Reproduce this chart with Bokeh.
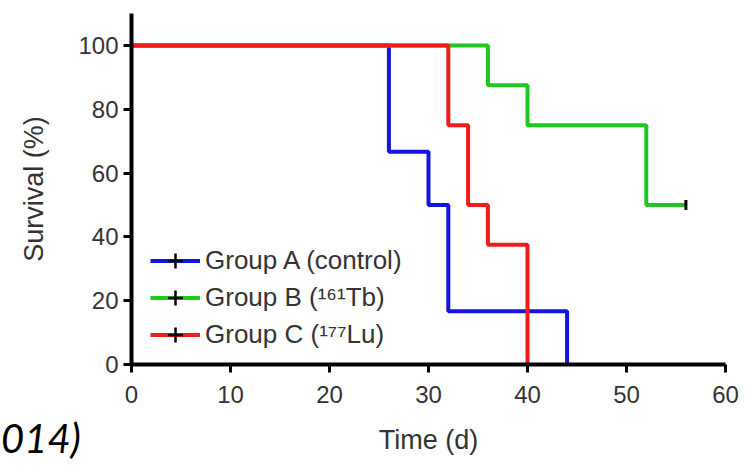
from bokeh.plotting import figure
from bokeh.models import Legend, LegendItem, FixedTicker, Range1d, Div
from bokeh.layouts import column
from bokeh.embed import file_html
from bokeh.resources import INLINE
import math

# Data (Kaplan-Meier survival, %)
time_a = [0, 26, 30, 32, 44]
surv_a = [100, 66.67, 50, 16.67, 0]
time_b = [0, 36, 40, 52, 56]
surv_b = [100, 87.5, 75, 50, 50]
time_c = [0, 32, 34, 36, 40]
surv_c = [100, 75, 50, 37.5, 0]
censor_b_time = [56]
censor_b_surv = [50]

names = ["Group A (control)", "Group B (\u00b9\u2076\u00b9Tb)", "Group C (\u00b9\u2077\u2077Lu)"]
colors = ["#1414e0", "#1ec81e", "#f01c1c"]
x_ticks = [0, 10, 20, 30, 40, 50, 60]
y_ticks = [0, 20, 40, 60, 80, 100]
caption = "014)"

FONT = "Liberation Sans"
TXT = "#333333"

p = figure(frame_width=594, frame_height=351, x_range=(0, 60), y_range=(0, 110),
           output_backend="svg", toolbar_location=None,
           min_border_left=131, min_border_right=15, min_border_top=13, min_border_bottom=95)
p.extra_x_ranges = {"legend_only": Range1d(1000, 1001)}
p.outline_line_color = None
p.grid.visible = False
p.background_fill_color = "white"

ra = p.step(time_a, surv_a, mode="after", line_color=colors[0], line_width=4)
rb = p.step(time_b, surv_b, mode="after", line_color=colors[1], line_width=4)
rc = p.step(time_c, surv_c, mode="after", line_color=colors[2], line_width=4)
# censored observation tick on the plot
p.scatter(censor_b_time, censor_b_surv, marker="dash", angle=math.pi / 2, size=10,
          line_color="black", line_width=3)
# censor symbol as shown in the legend (kept outside the visible range)
lg = p.scatter(censor_b_time, censor_b_surv, marker="cross", size=10, x_range_name="legend_only",
               line_color="black", line_width=2.5)

legend = Legend(items=[
    LegendItem(label=names[0], renderers=[ra, lg]),
    LegendItem(label=names[1], renderers=[rb, lg]),
    LegendItem(label=names[2], renderers=[rc, lg]),
], location=(19, 11))
legend.padding = 0
legend.margin = 0
legend.spacing = 0
legend.glyph_width = 50
legend.glyph_height = 37
legend.label_height = 37
legend.label_standoff = 5
legend.border_line_alpha = 0
legend.background_fill_alpha = 0
legend.label_text_font = FONT
legend.label_text_font_size = "26px"
legend.label_text_color = TXT
p.add_layout(legend, "center")

for ax in (p.xaxis[0], p.yaxis[0]):
    ax.axis_line_color = "black"
    ax.axis_line_width = 4
    ax.major_tick_line_color = "black"
    ax.major_tick_line_width = 3
    ax.major_tick_out = 8
    ax.major_tick_in = 0
    ax.minor_tick_line_color = None
    ax.major_label_text_font = FONT
    ax.major_label_text_font_size = "24px"
    ax.major_label_text_color = TXT
    ax.axis_label_text_font = FONT
    ax.axis_label_text_font_size = "27px"
    ax.axis_label_text_font_style = "normal"
    ax.axis_label_text_color = TXT

p.xaxis.ticker = FixedTicker(ticks=x_ticks)
p.yaxis.ticker = FixedTicker(ticks=y_ticks)
p.xaxis.axis_label = "Time (d)"
p.yaxis.axis_label = "Survival (%)"
p.xaxis.major_label_standoff = 13
p.xaxis.axis_label_standoff = 19
p.yaxis.major_label_standoff = 5
p.yaxis.axis_label_standoff = 26

cap = Div(text=caption, width=100, height=40, margin=(-41, 0, 0, 1),
          styles={"font-family": "Lato", "font-style": "italic", "font-size": "40px",
                  "line-height": "40px", "color": "black"})

layout = column(p, cap, spacing=0)
open("out.html", "w").write(file_html(layout, INLINE))
